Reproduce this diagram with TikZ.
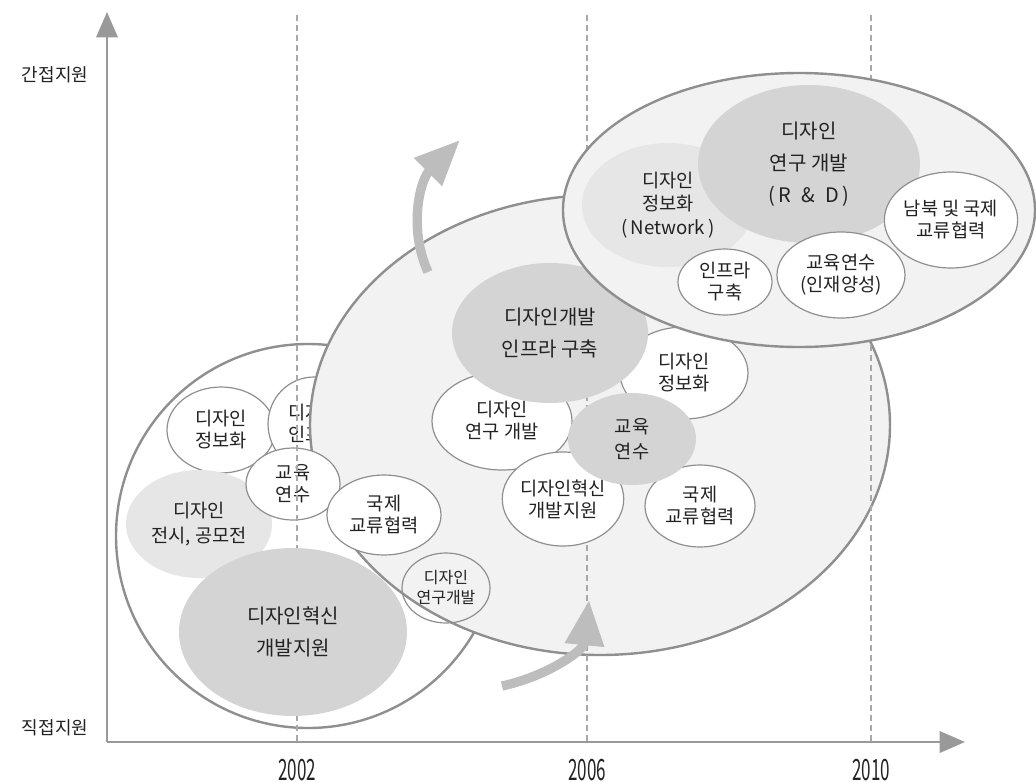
\documentclass[tikz,border=0pt]{standalone}
\usepackage{fontspec}
\setmainfont{Noto Sans CJK KR}
\usetikzlibrary{arrows.meta,shapes.geometric,positioning}

\definecolor{rimgray}{HTML}{8F8F8F}
\definecolor{axisgray}{HTML}{999999}
\definecolor{dashgray}{HTML}{A8A8A8}
\definecolor{paleback}{HTML}{F2F2F2}
\definecolor{midgray}{HTML}{D4D4D4}
\definecolor{softgray}{HTML}{E6E6E6}
\definecolor{arrowgray}{HTML}{BDBDBD}
\definecolor{textdark}{HTML}{222222}

\begin{document}
\begin{tikzpicture}[x=0.75pt,y=-0.75pt,
		every node/.style={align=center,inner sep=0pt,text=textdark,font=\fontsize{14}{16.5}\selectfont},
		rad/.style 2 args={minimum width=#1*1.5pt,minimum height=#2*1.5pt},
		region/.style={ellipse,draw=rimgray,line width=1.8pt},
		bubble/.style={ellipse,draw=rimgray,line width=0.9pt,fill=white},
		graybubble/.style={ellipse,fill=midgray,font=\fontsize{15}{24}\selectfont},
		softbubble/.style={ellipse,fill=softgray},
		guide/.style={dashgray,line width=1pt,dash pattern=on 4.5pt off 3pt},
		axisline/.style={axisgray,line width=2pt,-{Triangle[length=19pt,width=16pt]}},
		bigarrow/.style={arrowgray,line width=7pt,-{Triangle[length=34pt,width=28pt]}}]
		\useasboundingbox (0,0) rectangle (1036,782);

		% first phase (circle, lower left)
		\node[region,fill=white,rad={192}{192}] (phaseA) at (308,536) {};
		\node[bubble,rad={54}{43}] (infoA) at (221,430) {디자인\\정보화};
		\node[bubble,rad={46}{47}] (infraA) at (314,424) {디자인\\인프라};
		\node[softbubble,rad={73}{54},font=\fontsize{14}{18.5}\selectfont] (showA) at (199,524) {디자인\\전시, 공모전};

		% second phase
		\node[region,fill=paleback,rad={290}{230}] (phaseB) at (600,425) {};
		\node[bubble,rad={47}{36}] (eduA) at (293,484) {교육\\연수};
		\node[bubble,rad={57}{40}] (coopA) at (384,515) {국제\\교류협력};
		\node[bubble,fill=none,rad={44}{35},font=\fontsize{12}{15}\selectfont] (rndA) at (446,588) {디자인\\연구개발};

		% year guides
		\foreach \yr/\px in {2002/297,2006/587,2010/871} {
			\coordinate (top\yr) at (\px,15);
			\coordinate (foot\yr) at (\px,742);
			\draw[guide] (top\yr) -- (foot\yr);
			\node (yr\yr) at (\px,770) {\scalebox{0.58}[1]{\fontsize{22}{22}\selectfont\yr}};
		}

		\node[graybubble,rad={114}{84}] (innoA) at (293,632) {디자인혁신\\개발지원};

		\node[bubble,rad={64}{46}] (infoB) at (684,373) {디자인\\정보화};
		\node[bubble,rad={70}{49}] (rndB) at (502,421) {디자인\\연구 개발};
		\node[bubble,rad={60}{47}] (innoB) at (563,499) {디자인혁신\\개발지원};
		\node[bubble,rad={55}{41}] (coopB) at (700,506) {국제\\교류협력};
		\node[graybubble,rad={98}{70}] (infraB) at (550,333) {디자인개발\\인프라 구축};
		\node[graybubble,rad={64}{46},font=\fontsize{14}{19}\selectfont] (eduB) at (632,439) {교육\\연수};

		% third phase (upper right)
		\node[region,fill=paleback,rad={236}{137}] (phaseC) at (799,210) {};
		\node[softbubble,rad={86}{62},font=\fontsize{14}{17.5}\selectfont] (infoC) at (668,205) {디자인\\정보화\\(\,Network\,)};
		\node[graybubble,rad={111}{79}] (rndC) at (809,164) {디자인\\연구 개발\\(\,R\enskip\&\enskip D\,)};
		\node[bubble,rad={47}{33}] (infraC) at (725,282) {인프라\\구축};
		\node[bubble,rad={64}{43}] (eduC) at (841,275) {교육연수\\(인재양성)};
		\node[bubble,rad={64}{48}] (coopC) at (951,220) {남북 및 국제\\교류협력};

		% growth arrows
		\coordinate (tailA) at (428,272);
		\coordinate (headA) at (460,140);
		\coordinate (tailB) at (502,686);
		\coordinate (headB) at (589,600);
		\draw[bigarrow] (tailA) .. controls (408,228) and (420,180) .. (headA);
		\draw[bigarrow] (tailB) .. controls (548,676) and (584,650) .. (headB);

		% axes
		\coordinate (origin) at (107,742);
		\coordinate (ytip) at (107,12);
		\coordinate (xtip) at (965,742);
		\draw[axisline] (origin) -- (ytip);
		\draw[axisline] (origin) -- (xtip);
		\node[font=\fontsize{13.5}{16}\selectfont] (indirect) at (55,75) {간접지원};
		\node[font=\fontsize{13.5}{16}\selectfont] (direct) at (55,728) {직접지원};
	\end{tikzpicture}
\end{document}
